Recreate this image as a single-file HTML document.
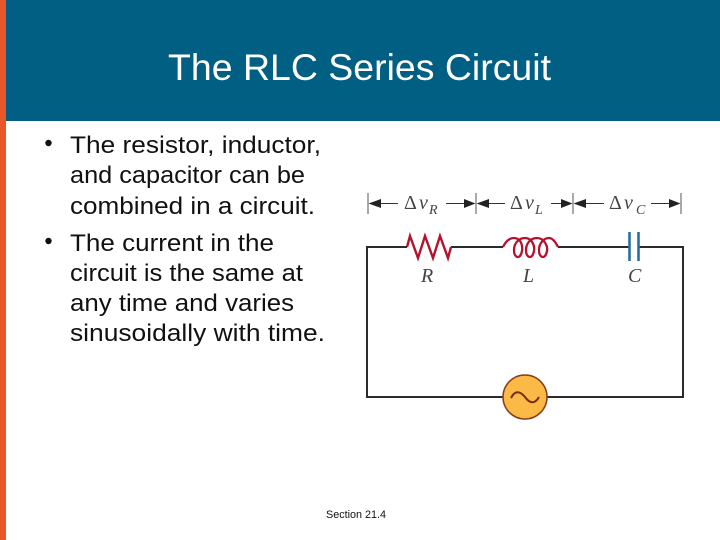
<!DOCTYPE html>
<html><head><meta charset="utf-8"><style>
html,body{margin:0;padding:0;background:#fff}
svg{display:block}
.b{font:24px "Liberation Sans",sans-serif;fill:#111}
.m{font:italic 20px "Liberation Serif",serif;fill:#444}
.s{font:italic 14px "Liberation Serif",serif;fill:#444}
.d{font:20px "Liberation Serif",serif;fill:#444}
</style></head><body>
<svg width="720" height="540" viewBox="0 0 720 540" xmlns="http://www.w3.org/2000/svg">
<rect width="720" height="540" fill="#fff"/>
<rect x="0" y="0" width="720" height="121" fill="#005f83"/>
<rect x="0" y="0" width="6" height="540" fill="#e8562a"/>
<text x="168" y="80" font-family="Liberation Sans,sans-serif" font-size="37" fill="#fff" textLength="383" lengthAdjust="spacingAndGlyphs">The RLC Series Circuit</text>

<circle cx="48.500" cy="143" r="3.200" fill="#111"/>
<circle cx="48.500" cy="241" r="3.200" fill="#111"/>
<text class="b" x="70" y="153" textLength="251" lengthAdjust="spacingAndGlyphs">The resistor, inductor,</text>
<text class="b" x="70" y="183" textLength="235" lengthAdjust="spacingAndGlyphs">and capacitor can be</text>
<text class="b" x="70" y="214" textLength="245" lengthAdjust="spacingAndGlyphs">combined in a circuit.</text>
<text class="b" x="70" y="251" textLength="204" lengthAdjust="spacingAndGlyphs">The current in the</text>
<text class="b" x="70" y="281" textLength="233" lengthAdjust="spacingAndGlyphs">circuit is the same at</text>
<text class="b" x="70" y="311" textLength="224" lengthAdjust="spacingAndGlyphs">any time and varies</text>
<text class="b" x="70" y="341" textLength="255" lengthAdjust="spacingAndGlyphs">sinusoidally with time.</text>

<text x="326" y="518" font-family="Liberation Sans,sans-serif" font-size="11" fill="#111" textLength="60" lengthAdjust="spacingAndGlyphs">Section 21.4</text>

<!-- wires -->
<path d="M407 247H367V397H503M547 397H683V247H638M629 247H558M503 247H451" fill="none" stroke="#2b2b2b" stroke-width="2"/>
<!-- resistor -->
<path d="M407 247L410 236L418 258L425 236L433 258L440 236L448 258L451 247" fill="none" stroke="#b5122e" stroke-width="2.400" stroke-linejoin="miter"/>
<!-- inductor -->
<path d="M503 247C506 241 510 238 514 238C521 238 523 246 522 251C521 256 519 257 518 257C516 257 514 255 514 250C514 243 519 238 525 238C532 238 535 246 534 251C533 256 531 257 530 257C528 257 526 255 526 250C526 243 531 238 537 238C544 238 548 246 547 251C546 256 544 257 543 257C541 257 539 255 539 250C539 243 544 238 549 238C553 238 556 243 558 247" fill="none" stroke="#b5122e" stroke-width="2.300"/>
<!-- capacitor -->
<path d="M629.500 232V261M638.500 232V261" stroke="#2a6ea6" stroke-width="2.600" fill="none"/>
<!-- source -->
<circle cx="525" cy="397" r="22" fill="#fbb945" stroke="#8a3b1c" stroke-width="1.500"/>
<path d="M511 398C515 390 520 391 525 397C530 404 535 404 539 397" fill="none" stroke="#7a2c12" stroke-width="2"/>

<!-- measurement ticks -->
<path d="M368 193V214M476 193V214M573 193V214M681 193V214" stroke="#555" stroke-width="1" fill="none"/>
<!-- measurement lines -->
<path d="M372 203.500H398M446 203.500H472M480 203.500H505M551 203.500H570M577 203.500H604M651 203.500H677" stroke="#333" stroke-width="1" fill="none"/>
<!-- arrowheads -->
<path d="M368.500 203.500L381 199V208ZM475.500 203.500L464 199V208ZM476.500 203.500L489 199V208ZM572.500 203.500L561 199V208ZM573.500 203.500L586 199V208ZM680.500 203.500L669 199V208Z" fill="#222"/>

<!-- labels -->
<text class="d" x="404" y="209">Δ</text><text class="m" x="419" y="209">v</text><text class="s" x="429" y="214">R</text>
<text class="d" x="510" y="209">Δ</text><text class="m" x="525" y="209">v</text><text class="s" x="535" y="214">L</text>
<text class="d" x="609" y="209">Δ</text><text class="m" x="624" y="209">v</text><text class="s" x="636" y="214">C</text>
<text class="m" x="421" y="282">R</text>
<text class="m" x="523" y="282">L</text>
<text class="m" x="628" y="282">C</text>
</svg>
</body></html>
